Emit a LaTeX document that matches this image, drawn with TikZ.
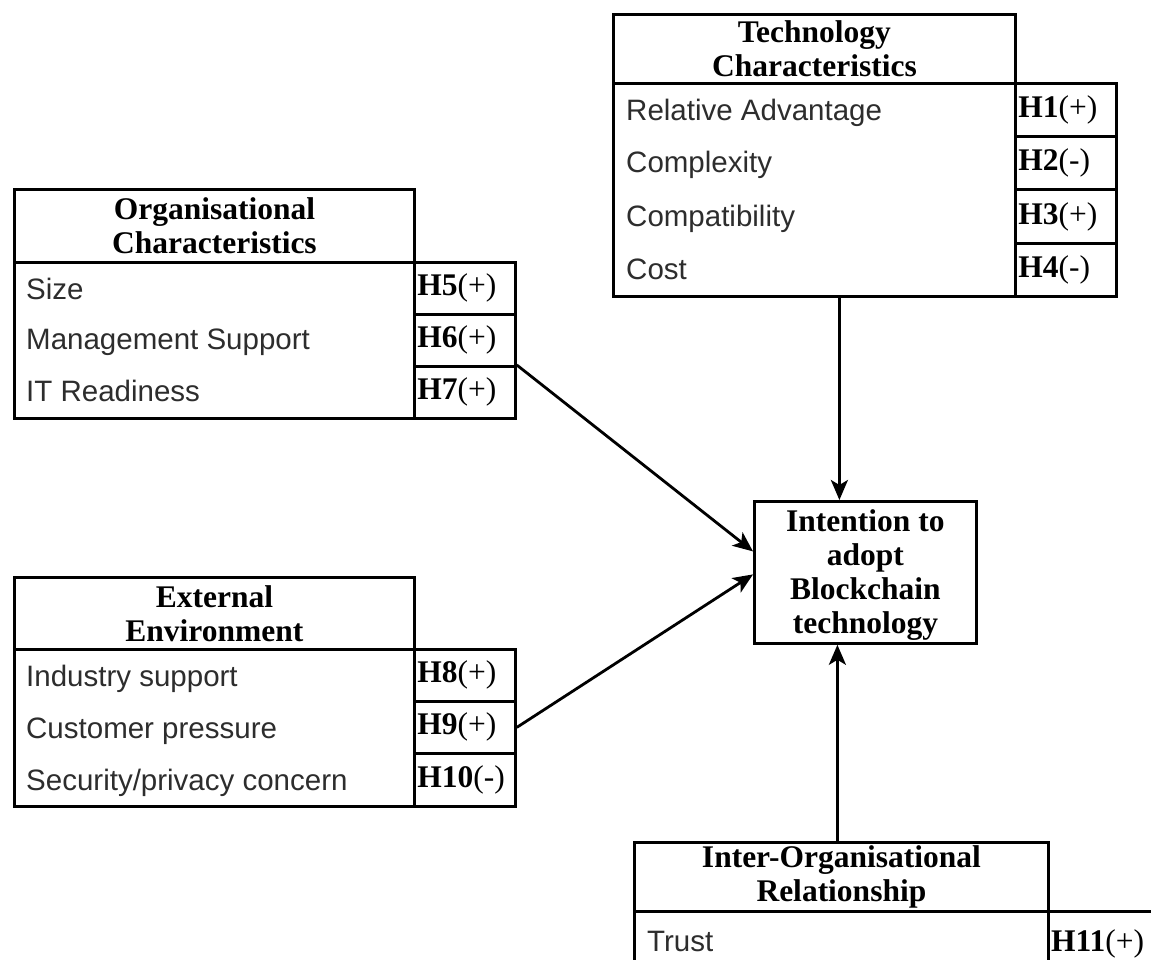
\documentclass[tikz,border=0pt]{standalone}
\usepackage{fontspec}
\setmainfont{Liberation Serif}
\newfontfamily\itemfont{Liberation Sans}
\usetikzlibrary{arrows.meta}
\definecolor{itemgray}{RGB}{45,45,45}
\begin{document}
\begin{tikzpicture}[x=1pt,y=-1pt,
  box/.style={draw, line width=2.8pt, inner sep=0pt, anchor=north west},
  titlebox/.style={box, align=center, font=\fontsize{31.5}{34}\selectfont\bfseries},
  itemtext/.style={anchor=base west, inner sep=0pt, text=itemgray, font=\itemfont\fontsize{29.5}{32}\selectfont},
  hcell/.style={box, minimum width=101pt, minimum height=#1, text width=95pt, inner xsep=3pt, align=left, font=\fontsize{31.5}{33}\selectfont},
  hcell/.default=52pt,
  conn/.style={line width=2.8pt, -{Stealth[length=20pt,width=17pt,inset=5pt]}}
]
\clip (0,0) rectangle (1151,960);
\fill[white] (0,0) rectangle (1151,960);

% Technology
\node[titlebox, minimum width=402pt, minimum height=69pt] (techhead) at (612,13) {Technology\\Characteristics};
\node[box, minimum width=402pt, minimum height=213pt] (techbody) at (612,82) {};
\node[itemtext] (t1) at (626,121) {Relative Advantage};
\node[itemtext] (t2) at (626,173) {Complexity};
\node[itemtext] (t3) at (626,226) {Compatibility};
\node[itemtext] (t4) at (626,279) {Cost};
\node[hcell=53.25pt] (h1) at (1014,82) {\textbf{H1}(+)};
\node[hcell=53.25pt] (h2) at (1014,135.25) {\textbf{H2}(-)};
\node[hcell=53.25pt] (h3) at (1014,188.5) {\textbf{H3}(+)};
\node[hcell=53.25pt] (h4) at (1014,241.75) {\textbf{H4}(-)};

% Organisational
\node[titlebox, minimum width=400pt, minimum height=73pt] (orghead) at (13,188) {Organisational\\Characteristics};
\node[box, minimum width=400pt, minimum height=156pt] (orgbody) at (13,261) {};
\node[itemtext] (o1) at (26,299.5) {Size};
\node[itemtext] (o2) at (26,349) {Management Support};
\node[itemtext] (o3) at (26,401.5) {IT Readiness};
\node[hcell] (h5) at (413,261) {\textbf{H5}(+)};
\node[hcell] (h6) at (413,313) {\textbf{H6}(+)};
\node[hcell] (h7) at (413,365) {\textbf{H7}(+)};

% External
\node[titlebox, minimum width=400pt, minimum height=72pt] (exthead) at (13,576) {External\\Environment};
\node[box, minimum width=400pt, minimum height=157pt] (extbody) at (13,648) {};
\node[itemtext] (e1) at (26,686) {Industry support};
\node[itemtext] (e2) at (26,738) {Customer pressure};
\node[itemtext] (e3) at (26,790) {Security/privacy concern};
\node[hcell] (h8) at (413,648) {\textbf{H8}(+)};
\node[hcell] (h9) at (413,700) {\textbf{H9}(+)};
\node[hcell=53pt] (h10) at (413,752) {\textbf{H10}(-)};

% Intention
\node[box, minimum width=222pt, minimum height=142pt] (intent) at (753,500) {};
\node[align=center, inner sep=0pt, font=\fontsize{31.5}{34}\selectfont\bfseries, yshift=-3pt] (intentt) at (intent.center) {Intention to\\adopt\\Blockchain\\technology};

% Inter-organisational
\node[titlebox, minimum width=414pt, minimum height=69pt] (interhead) at (633,841) {Inter-Organisational\\Relationship};
\node[box, minimum width=414pt, minimum height=100pt] (interbody) at (633,910) {};
\node[itemtext] (i1) at (647,951) {Trust};
\node[hcell=100pt, minimum width=120pt, text width=114pt] (h11) at (1047,910) {};
\node[anchor=base west, inner sep=0pt, font=\fontsize{31.5}{33}\selectfont] (h11t) at (1051,951) {\textbf{H11}(+)};

% Connectors
\draw[conn] ([xshift=-26pt]intent.north |- techbody.south) -- ([xshift=-26pt]intent.north);
\draw[conn] (h7.north east) -- ([yshift=21pt]intent.west);
\draw[conn] (h9.east) -- ([yshift=-2pt]intent.west);
\draw[conn] ([xshift=-28pt]intent.south |- interhead.north) -- ([xshift=-28pt]intent.south);
\end{tikzpicture}
\end{document}
